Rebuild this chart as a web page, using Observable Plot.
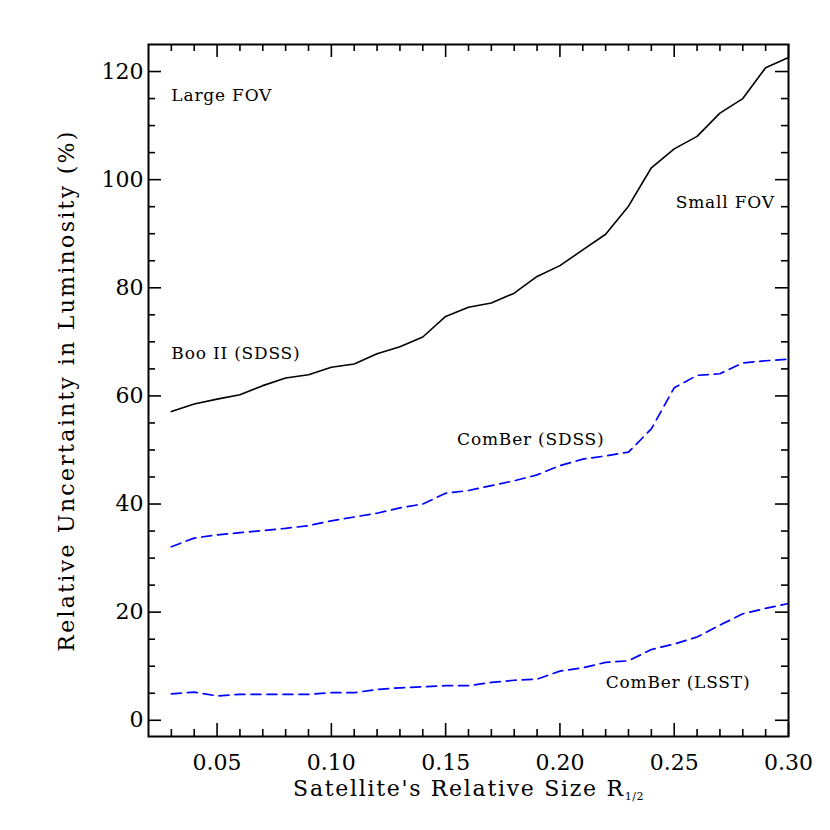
<!DOCTYPE html>
<html><head><meta charset="utf-8">
<script src="https://cdn.jsdelivr.net/npm/d3@7"></script>
<script src="https://cdn.jsdelivr.net/npm/@observablehq/plot@0.6"></script>
<style>body{margin:0;background:#fff}</style>
</head><body><div id="chart"></div>
<script>
// Satellite's relative size R_1/2
const sizes = [0.03,0.04,0.05,0.06,0.07,0.08,0.09,0.10,0.11,0.12,0.13,0.14,0.15,0.16,0.17,0.18,0.19,0.20,0.21,0.22,0.23,0.24,0.25,0.26,0.27,0.28,0.29,0.30];
// Relative uncertainty in luminosity (%)
const booSDSS    = [57.1,58.5,59.4,60.2,61.9,63.3,63.9,65.3,65.9,67.8,69.1,70.9,74.7,76.4,77.2,79.0,82.1,84.1,87.0,89.9,95.1,102.2,105.7,108.0,112.3,115.0,120.7,122.6];
const comberSDSS = [32.1,33.7,34.3,34.7,35.1,35.5,36.0,36.9,37.6,38.3,39.3,40.0,42.0,42.5,43.4,44.3,45.4,47.1,48.3,48.9,49.6,53.9,61.5,63.8,64.1,66.1,66.5,66.8];
const comberLSST = [4.9,5.2,4.5,4.8,4.8,4.8,4.8,5.1,5.1,5.7,6.0,6.2,6.4,6.4,7.0,7.4,7.6,9.1,9.7,10.7,11.0,13.1,14.1,15.4,17.6,19.7,20.7,21.6];

const xMajorTicks = [0.05,0.10,0.15,0.20,0.25,0.30];
const xMinorTicks = [0.03,0.04,0.06,0.07,0.08,0.09,0.11,0.12,0.13,0.14,0.16,0.17,0.18,0.19,0.21,0.22,0.23,0.24,0.26,0.27,0.28,0.29];
const yMajorTicks = [0,20,40,60,80,100,120];
const yMinorTicks = [5,10,15,25,30,35,45,50,55,65,70,75,85,90,95,105,110,115];

const xLabel = "Satellite's Relative Size R";
const xLabelSub = "1/2";
const yLabel = "Relative Uncertainty in Luminosity (%)";

const labelText = ["Large FOV","Boo II (SDSS)","ComBer (SDSS)","ComBer (LSST)","Small FOV"];
const labelX    = [0.03,0.03,0.155,0.22,0.294];
const labelY    = [115.6,67.9,51.9,6.9,95.8];
const labelEnd  = [false,false,false,false,true];

const table = sizes.map((s,i)=>({size:s, boo:booSDSS[i], cs:comberSDSS[i], cl:comberLSST[i]}));
const notes = labelText.map((t,i)=>({text:t, x:labelX[i], y:labelY[i], end:labelEnd[i]}));

const W=830,H=830,mL=148,mR=42,mT=44,mB=94;
const pw=W-mL-mR, ph=H-mT-mB;
const maj=13, mino=7;
const tk={stroke:"black", strokeWidth:1.6};

const chart = Plot.plot({
  width:W, height:H, marginLeft:mL, marginRight:mR, marginTop:mT, marginBottom:mB,
  style:{fontFamily:"DejaVu Serif", background:"white", color:"black"},
  x:{domain:[0.02,0.30]},
  y:{domain:[-3,125]},
  marks:[
    Plot.axisX(xMajorTicks,{tickSize:0, tickPadding:18, tickFormat:d3.format(".2f"), fontSize:22, label:null}),
    Plot.axisY(yMajorTicks,{tickSize:0, tickPadding:5, fontSize:22, label:null}),
    Plot.tickX(xMajorTicks,{x:d=>d, insetTop:ph-maj, ...tk}),
    Plot.tickX(xMajorTicks,{x:d=>d, insetBottom:ph-maj, ...tk}),
    Plot.tickX(xMinorTicks,{x:d=>d, insetTop:ph-mino, ...tk}),
    Plot.tickX(xMinorTicks,{x:d=>d, insetBottom:ph-mino, ...tk}),
    Plot.tickY(yMajorTicks,{y:d=>d, insetRight:pw-maj, ...tk}),
    Plot.tickY(yMajorTicks,{y:d=>d, insetLeft:pw-maj, ...tk}),
    Plot.tickY(yMinorTicks,{y:d=>d, insetRight:pw-mino, ...tk}),
    Plot.tickY(yMinorTicks,{y:d=>d, insetLeft:pw-mino, ...tk}),
    Plot.line(table,{x:"size", y:"boo", stroke:"black", strokeWidth:1.6}),
    Plot.line(table,{x:"size", y:"cs", stroke:"#0000ff", strokeWidth:1.7, strokeDasharray:"10,6"}),
    Plot.line(table,{x:"size", y:"cl", stroke:"#0000ff", strokeWidth:1.7, strokeDasharray:"10,6"}),
    Plot.text(notes.filter(d=>!d.end),{x:"x", y:"y", text:"text", textAnchor:"start", fontSize:17, fill:"black"}),
    Plot.text(notes.filter(d=>d.end),{x:"x", y:"y", text:"text", textAnchor:"end", fontSize:17, fill:"black"}),
    Plot.text([xLabel],{frameAnchor:"bottom", dy:59, lineAnchor:"bottom", fontSize:22, fill:"black"}),
    Plot.text([yLabel],{frameAnchor:"left", dx:-82, rotate:-90, textAnchor:"middle", fontSize:22, fill:"black"}),
    Plot.frame({stroke:"black", strokeWidth:2})
  ]
});
document.getElementById("chart").appendChild(chart);
const svg = d3.select(chart);
svg.selectAll("text").each(function(){
  const t = d3.select(this);
  const s = this.textContent;
  if (s === xLabel) {
    t.attr("letter-spacing", 1.7);
    t.append("tspan").attr("font-size", 11).attr("dy", 4).attr("letter-spacing", 0.5).text(xLabelSub);
  } else if (s === yLabel) {
    t.attr("letter-spacing", 2.3);
  } else if (labelText.includes(s)) {
    t.attr("letter-spacing", 0.8);
  }
});
</script>
</body></html>
